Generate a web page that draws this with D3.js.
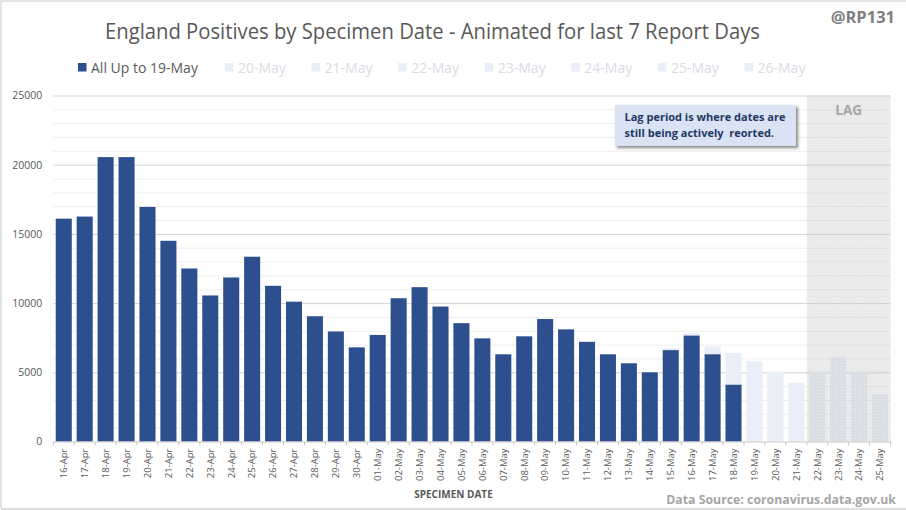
<!DOCTYPE html>
<html>
<head>
<meta charset="utf-8">
<style>
html, body { margin: 0; padding: 0; background: #fff; }
svg { display: block; font-family: "Open Sans", sans-serif; }
</style>
<script src="https://cdn.jsdelivr.net/npm/d3@7"></script>
</head>
<body>
<svg id="chart" width="906" height="510"></svg>
<script>
const dates = ["16-Apr","17-Apr","18-Apr","19-Apr","20-Apr","21-Apr","22-Apr","23-Apr","24-Apr","25-Apr",
	"26-Apr","27-Apr","28-Apr","29-Apr","30-Apr","01-May","02-May","03-May","04-May","05-May",
	"06-May","07-May","08-May","09-May","10-May","11-May","12-May","13-May","14-May","15-May",
	"16-May","17-May","18-May","19-May","20-May","21-May","22-May","23-May","24-May","25-May"];

// reported up to 19-May
const upTo19May = [16100,16250,20550,20550,16950,14500,12500,10550,11850,13350,
	11250,10100,9050,7950,6800,7700,10350,11150,9750,8550,
	7450,6300,7600,8850,8100,7200,6300,5650,5000,6600,
	7650,6300,4100,0,0,0,0,0,0,0];

// final totals after the later report days, the pale part of the bars
const upTo26May = [16100,16250,20550,20550,16950,14500,12500,10550,11850,13350,
	11250,10100,9050,7950,6800,7700,10350,11150,9750,8550,
	7450,6300,7600,8850,8100,7200,6300,5650,5000,6750,
	7850,6850,6400,5800,5050,4250,5050,6100,5050,3400];

const legendLabels = ["All Up to 19-May","20-May","21-May","22-May","23-May","24-May","25-May","26-May"];
const lagDates = ["22-May","23-May","24-May","25-May"];
const majorTicks = [0,5000,10000,15000,20000,25000];

const svg = d3.select("#chart");
const width = 906, height = 510;
const margin = {top: 95.5, right: 15.5, bottom: 68.5, left: 53.3};

const x = d3.scaleBand()
	.domain(dates)
	.range([margin.left, width - margin.right])
	.paddingInner(0.235)
	.paddingOuter(0.1175);

const y = d3.scaleLinear()
	.domain([0, 25000])
	.range([height - margin.bottom, margin.top]);

const step = x.step();
const edge = d => x(d) - (step - x.bandwidth()) / 2;

// frame of the picture
svg.append("path")
	.attr("d", `M1,${height - 1.5}V1H${width}`)
	.attr("fill", "none").attr("stroke", "#dcdcdc").attr("stroke-width", 1.5);
svg.append("path")
	.attr("d", `M1,${height - 1}H${width}`)
	.attr("fill", "none").attr("stroke", "#d4d4d4").attr("stroke-width", 1.5);

const defs = svg.append("defs");
const dots = defs.append("pattern")
	.attr("id", "lagDots")
	.attr("width", 3).attr("height", 3)
	.attr("patternUnits", "userSpaceOnUse");
dots.append("rect").attr("width", 3).attr("height", 3).attr("fill", "#a8a8a8").attr("fill-opacity", 0.24);
dots.append("rect").attr("width", 1).attr("height", 1).attr("fill", "#fff").attr("fill-opacity", 0.35);

const shadow = defs.append("filter").attr("id", "boxShadow")
	.attr("x", "-5%").attr("y", "-10%").attr("width", "115%").attr("height", "130%");
shadow.append("feDropShadow")
	.attr("dx", 2).attr("dy", 2).attr("stdDeviation", 1.4)
	.attr("flood-color", "#444").attr("flood-opacity", 0.65);

// gridlines, one faint line each 1000 and a stronger one each 5000
svg.append("g")
	.attr("transform", `translate(${margin.left},0)`)
	.call(d3.axisLeft(y).tickValues(d3.range(1000, 25001, 1000))
		.tickSize(-(width - margin.left - margin.right)).tickFormat(""))
	.call(g => g.select(".domain").remove())
	.call(g => g.selectAll("line")
		.attr("stroke", d => d % 5000 === 0 ? "#d2d2d2" : "#efefef")
		.attr("stroke-width", 1));

// pale bars
svg.append("g")
	.attr("fill", "#e9eef7")
	.selectAll("rect").data(dates).enter()
		.append("rect")
		.attr("x", d => x(d))
		.attr("y", (d, i) => y(upTo26May[i]))
		.attr("width", x.bandwidth())
		.attr("height", (d, i) => y(0) - y(upTo26May[i]));

// dark bars
svg.append("g")
	.attr("fill", "#2e4f8d")
	.selectAll("rect").data(dates).enter()
		.append("rect")
		.attr("x", d => x(d))
		.attr("y", (d, i) => y(upTo19May[i]))
		.attr("width", x.bandwidth())
		.attr("height", (d, i) => y(0) - y(upTo19May[i]));

// lag band sits over the bars
const lagLeft = edge(lagDates[0]);
svg.append("rect")
	.attr("x", lagLeft)
	.attr("y", y(25000))
	.attr("width", width - margin.right - lagLeft)
	.attr("height", y(0) - y(25000))
	.attr("fill", "url(#lagDots)");

svg.append("text")
	.attr("x", (lagLeft + width - margin.right) / 2)
	.attr("y", 115)
	.attr("text-anchor", "middle")
	.attr("font-size", 13.5).attr("font-weight", 700)
	.attr("fill", "#a6a6a6")
	.text("LAG");

// axes
svg.append("g")
	.attr("transform", `translate(${margin.left},0)`)
	.call(d3.axisLeft(y).tickValues(majorTicks).tickSize(0).tickPadding(11).tickFormat(d3.format("d")))
	.call(g => g.select(".domain").remove())
	.call(g => g.selectAll("text").attr("font-size", 10.5).attr("font-family", "Open Sans").attr("fill", "#595959"));

const xAxis = svg.append("g")
	.attr("transform", `translate(0,${y(0)})`)
	.call(d3.axisBottom(x).tickSize(0).tickSizeOuter(0))
	.call(g => g.select(".domain").attr("stroke", "#c8c8c8"));

xAxis.selectAll("text")
	.attr("transform", "rotate(-90)")
	.attr("x", -7)
	.attr("y", 0)
	.attr("dy", "0.35em")
	.attr("text-anchor", "end")
	.attr("font-size", 9.5)
	.attr("font-family", "Open Sans")
	.attr("fill", "#595959");

// tick marks fall between the categories
xAxis.append("g").selectAll("line").data(dates.concat("end")).enter()
	.append("line")
	.attr("x1", d => d === "end" ? width - margin.right : edge(d))
	.attr("x2", d => d === "end" ? width - margin.right : edge(d))
	.attr("y1", 0).attr("y2", 4)
	.attr("stroke", "#c8c8c8");

svg.append("text")
	.attr("x", 453.5).attr("y", 497.5)
	.attr("text-anchor", "middle")
	.attr("font-size", 10).attr("font-weight", 700)
	.attr("fill", "#595959")
	.text("SPECIMEN DATE");

// title and corner notes
svg.append("text")
	.attr("x", 432.5).attr("y", 39)
	.attr("text-anchor", "middle")
	.attr("font-size", 21.5)
	.attr("textLength", 655).attr("lengthAdjust", "spacingAndGlyphs")
	.attr("fill", "#595959")
	.text("England Positives by Specimen Date - Animated for last 7 Report Days");

svg.append("text")
	.attr("x", 895).attr("y", 23)
	.attr("text-anchor", "end")
	.attr("font-size", 16.5).attr("font-weight", 700)
	.attr("fill", "#7f7f7f")
	.text("@RP131");

svg.append("text")
	.attr("x", 896).attr("y", 503.5)
	.attr("text-anchor", "end")
	.attr("font-size", 12.3)
	.attr("font-weight", 700)
	.attr("fill", "#a6a6a6")
	.text("Data Source: coronavirus.data.gov.uk");

// legend
const legendX = d3.scalePoint()
	.domain(legendLabels.slice(1))
	.range([225, 744.5]);

const legend = svg.append("g").selectAll("g").data(legendLabels).enter()
	.append("g")
	.attr("transform", (d, i) => `translate(${i === 0 ? 78 : legendX(d)},63)`);

legend.append("rect")
	.attr("width", 8.5).attr("height", 8.5)
	.attr("fill", (d, i) => i === 0 ? "#2e4f8d" : "#e9eef7");

legend.append("text")
	.attr("x", 13)
	.attr("y", 9.5)
	.attr("font-size", 14)
	.attr("fill", (d, i) => i === 0 ? "#595959" : "#d9dde3")
	.text(d => d);

// note box
const note = svg.append("g").attr("transform", "translate(615,105)");
note.append("rect")
	.attr("width", 181).attr("height", 41)
	.attr("fill", "#dae3f3")
	.attr("filter", "url(#boxShadow)");
note.selectAll("text").data(["Lag period is where dates are", "still being actively  reorted."]).enter()
	.append("text")
	.attr("x", 9.5)
	.attr("y", (d, i) => 16 + i * 16)
	.attr("font-size", 11).attr("font-weight", 700)
	.attr("fill", "#1f3864")
	.attr("xml:space", "preserve")
	.text(d => d);
</script>
</body>
</html>
